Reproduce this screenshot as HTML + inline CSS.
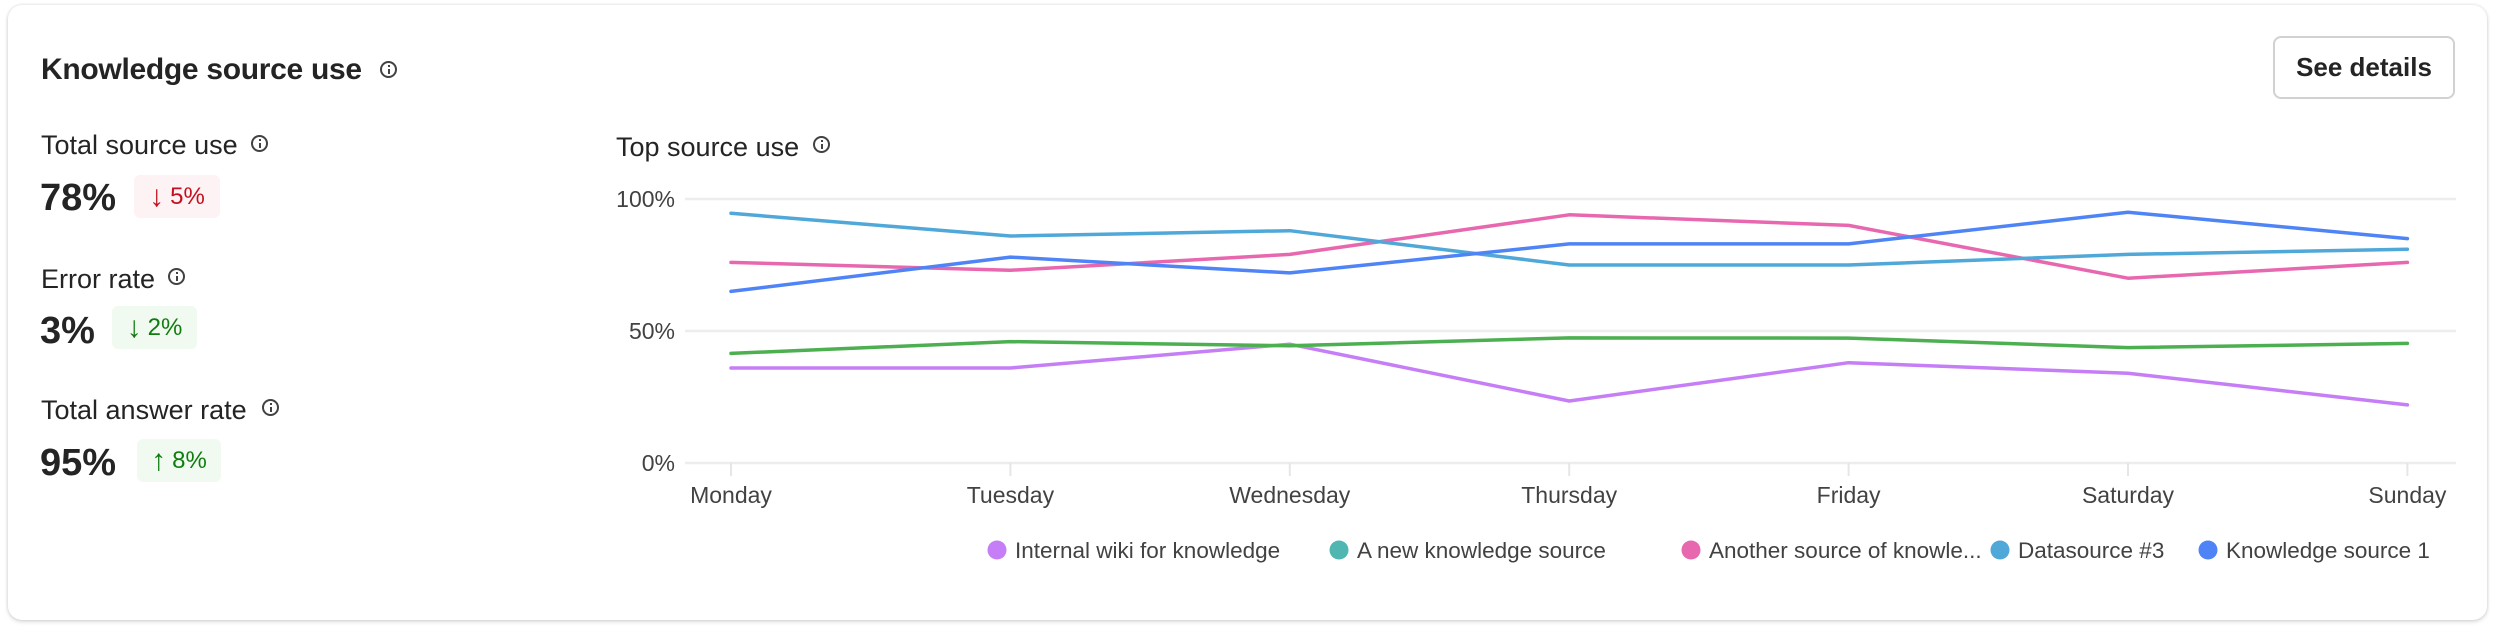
<!DOCTYPE html>
<html><head><meta charset="utf-8">
<style>
html,body{margin:0;padding:0;background:#fff;width:2496px;height:632px;overflow:hidden;font-family:"Liberation Sans",sans-serif;color:#242424}
.card{position:absolute;left:8px;top:5px;width:2479px;height:615px;border-radius:14px;background:#fff;box-shadow:0 0 3px rgba(0,0,0,0.14),0 2px 5px rgba(0,0,0,0.12)}
.abs{position:absolute;white-space:nowrap}
.info{position:absolute;width:17px;height:17px;border:2px solid #424242;border-radius:50%;box-sizing:border-box}
.info:after{content:"";position:absolute;left:6px;top:6px;width:2px;height:5px;background:#424242}
.info:before{content:"";position:absolute;left:6px;top:2px;width:2px;height:2px;background:#424242}
.badge{position:absolute;border-radius:6px;font-size:24px;display:flex;align-items:center;justify-content:center;gap:6px}
.badge .ar{font-size:30px;line-height:30px}
.red{background:#fdf3f4;color:#c50f1f}
.green{background:#f1faf1;color:#107c10}
.lbl{font-size:27px;color:#242424}
.big{font-size:38px;font-weight:bold;color:#242424}
</style></head><body>
<div class="card"></div>
<div class="abs" style="left:41px;top:52px;font-size:30px;font-weight:bold;line-height:36px;letter-spacing:-0.3px">Knowledge source use</div>
<div class="info" style="left:380px;top:61px"></div>
<div class="abs" style="left:2273px;top:36px;width:182px;height:63px;box-sizing:border-box;border:2px solid #d1d1d1;border-radius:8px;display:flex;align-items:center;justify-content:center;font-size:26px;font-weight:bold;color:#242424">See details</div>

<div class="abs lbl" style="left:41px;top:130px;line-height:30px">Total source use</div>
<div class="info" style="left:251px;top:135px"></div>
<div class="abs big" style="left:40px;top:176px;line-height:44px">78%</div>
<div class="badge red" style="left:134px;top:175px;width:86px;height:43px"><span class="ar">↓</span><span>5%</span></div>

<div class="abs lbl" style="left:41px;top:264px;line-height:30px">Error rate</div>
<div class="info" style="left:168px;top:268px"></div>
<div class="abs big" style="left:40px;top:309px;line-height:44px">3%</div>
<div class="badge green" style="left:112px;top:306px;width:85px;height:43px"><span class="ar">↓</span><span>2%</span></div>

<div class="abs lbl" style="left:41px;top:395px;line-height:30px">Total answer rate</div>
<div class="info" style="left:262px;top:399px"></div>
<div class="abs big" style="left:40px;top:441px;line-height:44px">95%</div>
<div class="badge green" style="left:137px;top:439px;width:84px;height:43px"><span class="ar">↑</span><span>8%</span></div>

<div class="abs lbl" style="left:616px;top:132px;line-height:30px">Top source use</div>
<div class="info" style="left:813px;top:136px"></div>

<svg id="chart" width="2496" height="632" style="position:absolute;left:0;top:0" xmlns="http://www.w3.org/2000/svg"></svg>

<script>
const categories = ["Monday","Tuesday","Wednesday","Thursday","Friday","Saturday","Sunday"];
const yTicks = [0, 50, 100];
const yTickLabels = ["0%", "50%", "100%"];
const seriesNames = ["Internal wiki for knowledge","A new knowledge source","Another source of knowle...","Datasource #3","Knowledge source 1"];
const internalWiki = [36, 36, 45, 23.5, 38, 34, 22];
const newSource = [41.5, 46, 44.4, 47.4, 47.3, 43.7, 45.3];
const anotherSource = [76, 73, 79, 94, 90, 70, 76];
const datasource3 = [94.6, 86, 88, 75, 75, 79, 81];
const knowledgeSource1 = [65, 78, 72, 83, 83, 95, 85];

const lineColors = ["#c57ef5","#4caf50","#e868b0","#4fa8d8","#4f84f7"];
const legendColors = ["#c57ef5","#4fb6b2","#e868b0","#4fa8d8","#4f84f7"];
const allSeries = [internalWiki, newSource, anotherSource, datasource3, knowledgeSource1];

const NS = "http://www.w3.org/2000/svg";
const svg = document.getElementById("chart");
const X0 = 731, XSTEP = 279.4, Y0 = 463, YH = 264;
function xPos(i){ return X0 + i * XSTEP; }
function yPos(v){ return Y0 - v / 100 * YH; }
function mk(tag, attrs){ const e = document.createElementNS(NS, tag); for (const k in attrs) e.setAttribute(k, attrs[k]); svg.appendChild(e); return e; }

yTicks.forEach((t, i) => {
  const g = mk("line", {x1: 685, x2: 2456, y1: yPos(t), y2: yPos(t), stroke: "#ededed", "stroke-width": 2.5});
  
  
  const tx = mk("text", {x: 675, y: yPos(t) + 8, "text-anchor": "end", "font-size": 23, fill: "#424242", "font-family": "Liberation Sans, sans-serif"});
  tx.textContent = yTickLabels[i];
  
  
});
categories.forEach((c, i) => {
  const tk = mk("line", {x1: xPos(i), x2: xPos(i), y1: Y0, y2: Y0 + 13, stroke: "#e6e6e6", "stroke-width": 2});
  
  
  const tx = mk("text", {x: xPos(i), y: 503, "text-anchor": "middle", "font-size": 23, fill: "#424242", "font-family": "Liberation Sans, sans-serif"});
  tx.textContent = c;
  
  
});
allSeries.forEach((s, si) => {
  const pts = s.map((v, i) => xPos(i).toFixed(1) + "," + yPos(v).toFixed(1)).join(" ");
  const pl = mk("polyline", {points: pts, fill: "none", stroke: lineColors[si], "stroke-width": 3.5, "stroke-linejoin": "round", "stroke-linecap": "round"});
  
  
});
const legendX = [997, 1339, 1691, 2000, 2208];
seriesNames.forEach((n, i) => {
  const d = mk("circle", {cx: legendX[i], cy: 550, r: 9.5, fill: legendColors[i]});
  
  
  const t = mk("text", {x: legendX[i] + 18, y: 558, "font-size": 22.5, fill: "#424242", "font-family": "Liberation Sans, sans-serif"});
  t.textContent = n;
  
  
});
</script>
</body></html>
